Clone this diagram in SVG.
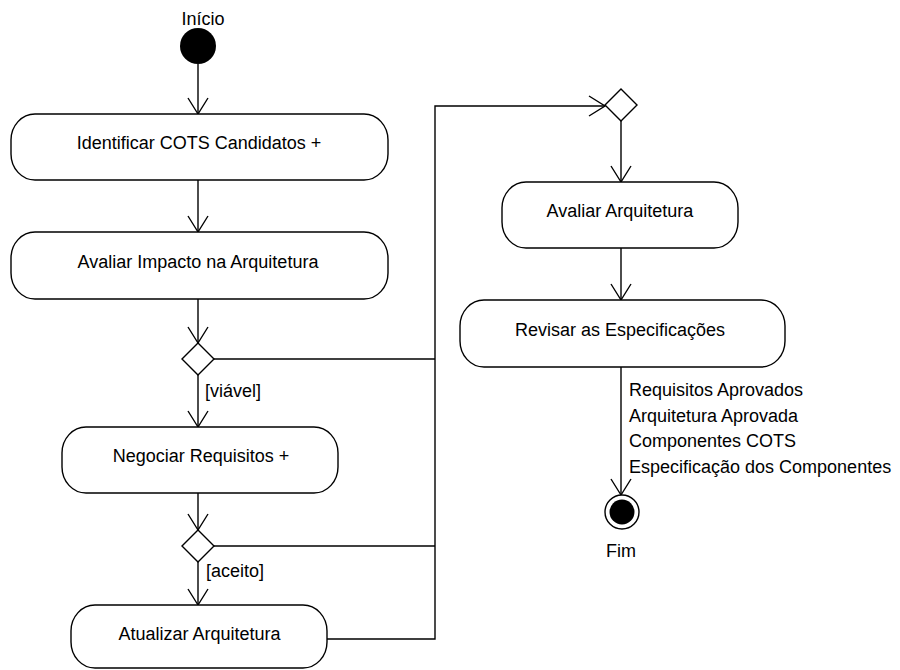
<svg xmlns="http://www.w3.org/2000/svg" width="900" height="670" viewBox="0 0 900 670">
  <style>
    .act { fill: #ffffff; stroke: #000000; stroke-width: 1.4; }
    .dec { fill: #ffffff; stroke: #000000; stroke-width: 1.4; }
    .flow { fill: none; stroke: #000000; stroke-width: 1.4; }
    .lbl { font-family: "Liberation Sans", Arial, sans-serif; font-size: 18px; fill: #000000; }
    .mid { text-anchor: middle; }
  </style>
  <defs>
    <marker id="open" viewBox="-18 -12 20 24" refX="0" refY="0" markerWidth="20" markerHeight="24" markerUnits="userSpaceOnUse" orient="auto">
      <path d="M-16,-10 L0,0 L-16,10" fill="none" stroke="#000000" stroke-width="1.4"/>
    </marker>
  </defs>

  <!-- control flows -->
  <g id="connectors">
    <path class="flow" d="M198,64 V114" marker-end="url(#open)"/>
    <path class="flow" d="M198,180 V232" marker-end="url(#open)"/>
    <path class="flow" d="M198,299 V343" marker-end="url(#open)"/>
    <path class="flow" d="M198,375 V427" marker-end="url(#open)"/>
    <path class="flow" d="M198,493 V530" marker-end="url(#open)"/>
    <path class="flow" d="M198,562 V605" marker-end="url(#open)"/>
    <!-- shared trunk back to the merge node -->
    <path class="flow" d="M327,639 H435 V106 H605" marker-end="url(#open)"/>
    <path class="flow" d="M214,359 H435"/>
    <path class="flow" d="M214,546 H435"/>
    <path class="flow" d="M621,121 V182" marker-end="url(#open)"/>
    <path class="flow" d="M621,248 V300" marker-end="url(#open)"/>
    <path class="flow" d="M621,367 V495" marker-end="url(#open)"/>
    <text class="lbl" x="205" y="397">[viável]</text>
    <text class="lbl" x="206" y="577">[aceito]</text>
    <text class="lbl" x="629" y="396">Requisitos Aprovados</text>
    <text class="lbl" x="629" y="421.5">Arquitetura Aprovada</text>
    <text class="lbl" x="629" y="447">Componentes COTS</text>
    <text class="lbl" x="629" y="472.5">Especificação dos Componentes</text>
  </g>

  <g id="inicio">
    <circle cx="198" cy="46" r="18" fill="#000000"/>
    <text class="lbl mid" x="203" y="25">Início</text>
  </g>

  <g id="identificar-cots">
    <rect class="act" x="11" y="114" width="377" height="66" rx="24" ry="26"/>
    <text class="lbl mid" x="199" y="149">Identificar COTS Candidatos +</text>
  </g>

  <g id="avaliar-impacto">
    <rect class="act" x="11" y="232" width="377" height="67" rx="24" ry="26"/>
    <text class="lbl mid" x="198" y="268">Avaliar Impacto na Arquitetura</text>
  </g>

  <g id="decisao-viavel">
    <polygon class="dec" points="198,343 214,359 198,375 182,359"/>
  </g>

  <g id="negociar-requisitos">
    <rect class="act" x="62" y="427" width="276" height="66" rx="24" ry="26"/>
    <text class="lbl mid" x="201" y="462">Negociar Requisitos +</text>
  </g>

  <g id="decisao-aceito">
    <polygon class="dec" points="198,530 214,546 198,562 182,546"/>
  </g>

  <g id="atualizar-arquitetura">
    <rect class="act" x="71" y="605" width="256" height="63" rx="24" ry="26"/>
    <text class="lbl mid" x="199.5" y="640">Atualizar Arquitetura</text>
  </g>

  <g id="juncao">
    <polygon class="dec" points="621,89 637,105 621,121 605,105"/>
  </g>

  <g id="avaliar-arquitetura">
    <rect class="act" x="502" y="182" width="236" height="66" rx="24" ry="26"/>
    <text class="lbl mid" x="620" y="217">Avaliar Arquitetura</text>
  </g>

  <g id="revisar-especificacoes">
    <rect class="act" x="460" y="300" width="325" height="67" rx="24" ry="26"/>
    <text class="lbl mid" x="620" y="336">Revisar as Especificações</text>
  </g>

  <g id="fim">
    <circle cx="622" cy="512" r="17" fill="#ffffff" stroke="#000000" stroke-width="1.4"/>
    <circle cx="622" cy="512" r="12.5" fill="#000000"/>
    <text class="lbl mid" x="621" y="557">Fim</text>
  </g>
</svg>
